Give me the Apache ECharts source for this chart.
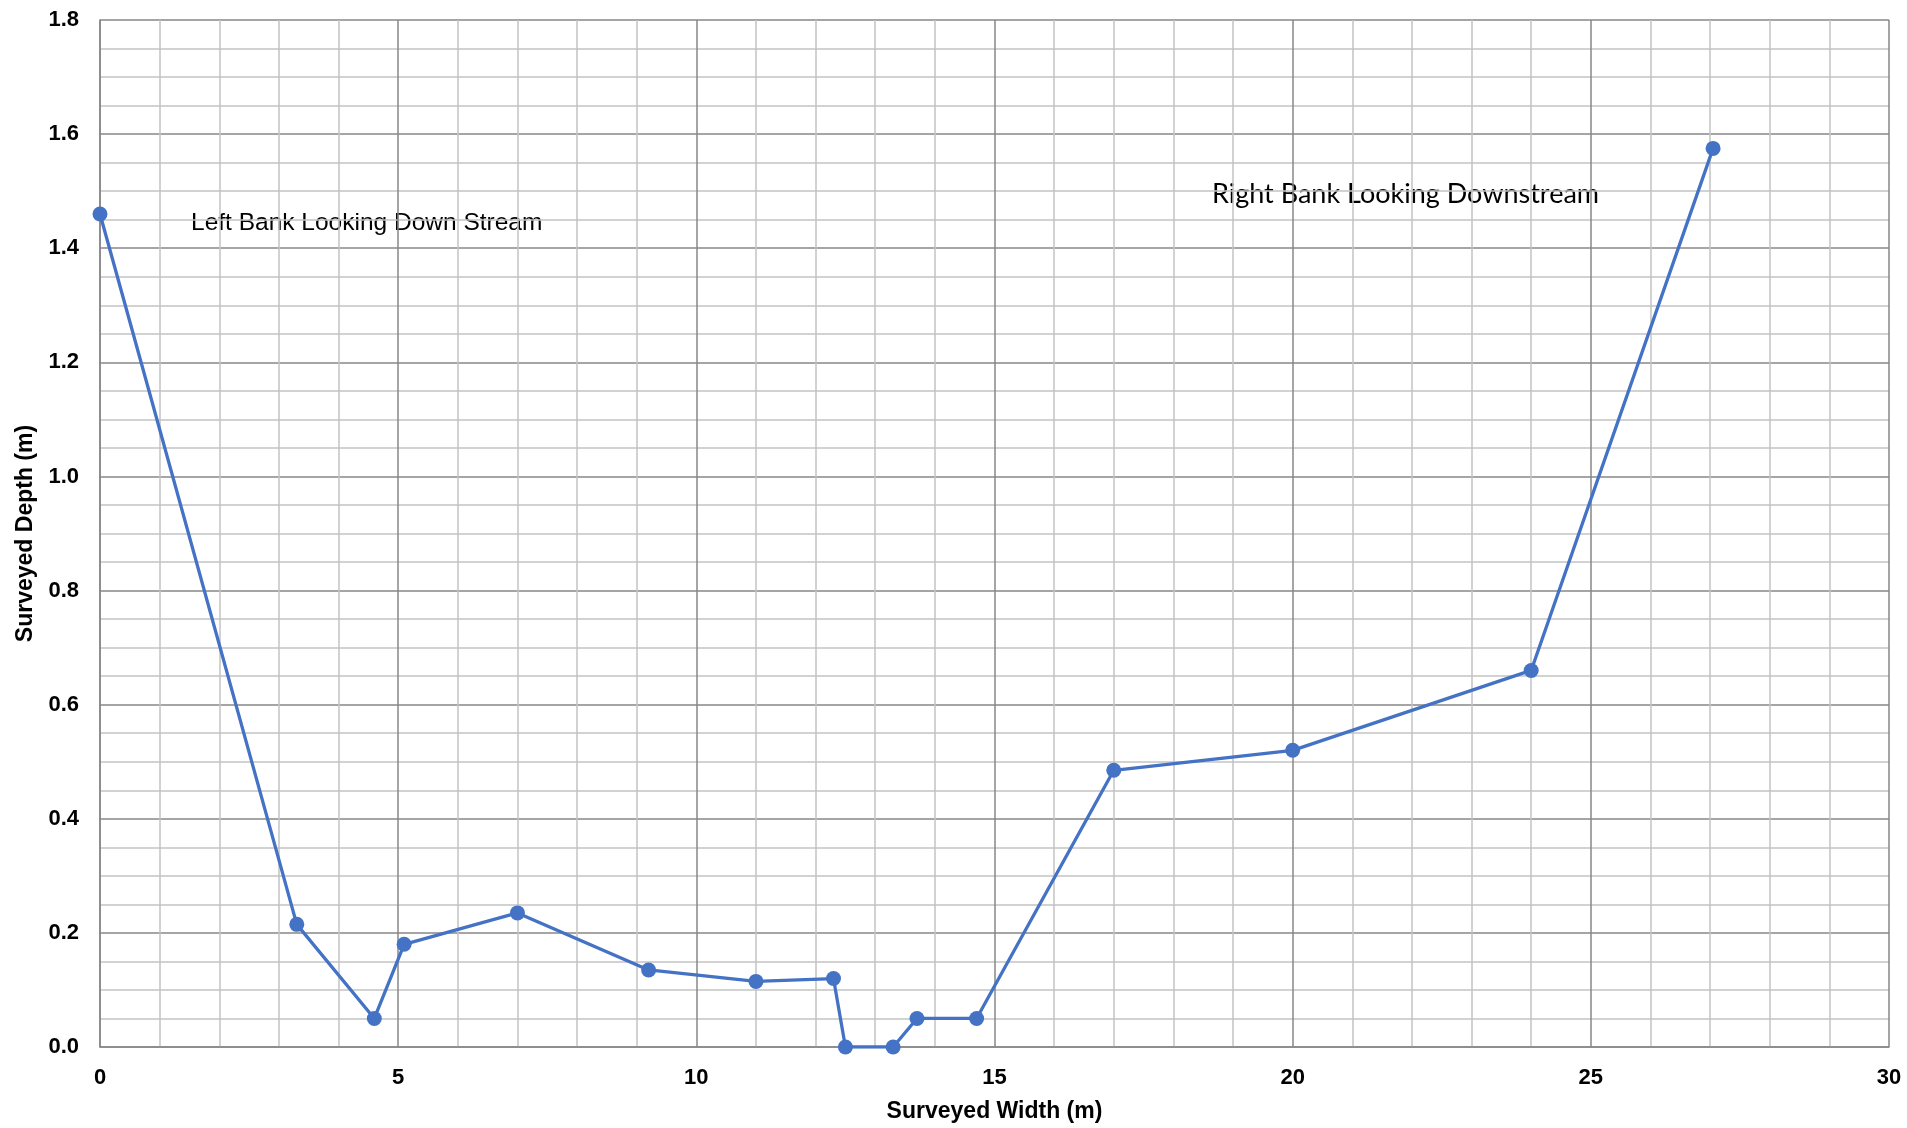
<!DOCTYPE html>
<html>
<head>
<meta charset="utf-8">
<script src="https://cdn.jsdelivr.net/npm/echarts@6/dist/echarts.min.js"></script>
<style>html,body{margin:0;padding:0;background:#fff}#c{width:1907px;height:1128px}</style>
</head>
<body>
<div id="c"></div>
<script>
const widths = [0, 3.3, 4.6, 5.1, 7.0, 9.2, 11.0, 12.3, 12.5, 13.3, 13.7, 14.7, 17.0, 20.0, 24.0, 27.05];
const depths = [1.46, 0.215, 0.05, 0.18, 0.235, 0.135, 0.115, 0.12, 0, 0, 0.05, 0.05, 0.485, 0.52, 0.66, 1.575];
const xTitle = 'Surveyed Width (m)';
const yTitle = 'Surveyed Depth (m)';
const notes = ['Left Bank Looking Down Stream', 'Right Bank Looking Downstream'];

const chart = echarts.init(document.getElementById('c'));
const major = '#878787', minor = '#c3c3c3';
chart.setOption({
  animation: false,
  grid: {left: 100, top: 20, right: 18, bottom: 80, containLabel: false},
  xAxis: {
    type: 'value', min: 0, max: 30, interval: 5,
    name: xTitle, nameLocation: 'middle', nameGap: 53,
    nameTextStyle: {fontFamily: 'Liberation Sans', fontWeight: 'bold', fontSize: 23, color: '#000'},
    axisLine: {show: true, lineStyle: {color: major, width: 1.5}},
    axisTick: {show: false},
    axisLabel: {fontFamily: 'Liberation Sans', fontWeight: 'bold', fontSize: 22, color: '#000', margin: 20},
    splitLine: {show: true, lineStyle: {color: major, width: 1.5}},
    minorTick: {show: false, splitNumber: 5},
    minorSplitLine: {show: true, lineStyle: {color: minor, width: 1.5}}
  },
  yAxis: {
    type: 'value', min: 0, max: 1.8, interval: 0.2,
    name: yTitle, nameLocation: 'middle', nameGap: 62, nameRotate: 90,
    nameTextStyle: {fontFamily: 'Liberation Sans', fontWeight: 'bold', fontSize: 23, color: '#000'},
    axisLine: {show: true, lineStyle: {color: major, width: 1.5}},
    axisTick: {show: false},
    axisLabel: {fontFamily: 'Liberation Sans', fontWeight: 'bold', fontSize: 22, color: '#000', margin: 21,
      formatter: v => v.toFixed(1)},
    splitLine: {show: true, lineStyle: {color: major, width: 1.5}},
    minorTick: {show: false, splitNumber: 4},
    minorSplitLine: {show: true, lineStyle: {color: minor, width: 1.5}}
  },
  graphic: [
    {type: 'text', left: 191, top: 211, style: {text: notes[0], font: '24.5px "Liberation Sans"', fill: '#000'}},
    {type: 'text', left: 1212, top: 181, style: {text: notes[1], font: '27px Lato', fill: '#000'}}
  ],
  series: [{
    type: 'line',
    data: widths.map((w, i) => [w, depths[i]]),
    symbol: 'circle', symbolSize: 15,
    lineStyle: {color: '#4472C4', width: 3.3},
    itemStyle: {color: '#4472C4'}
  }]
});
</script>
</body>
</html>
